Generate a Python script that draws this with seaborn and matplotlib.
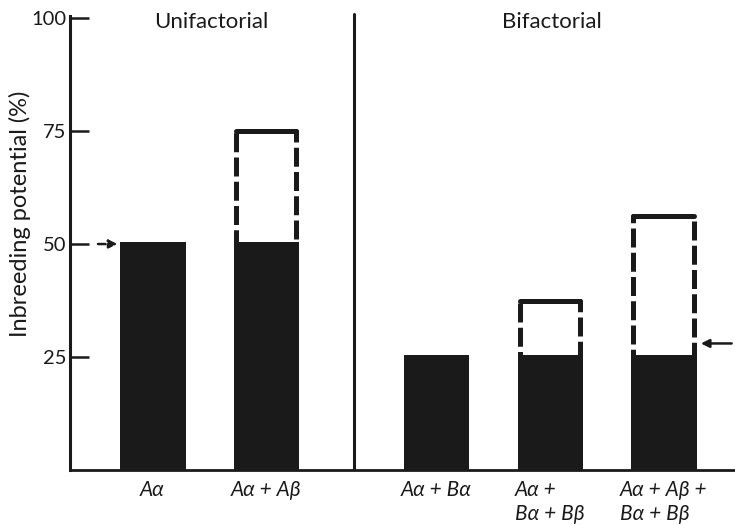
import matplotlib
matplotlib.use("Agg")
import matplotlib.pyplot as plt
import seaborn as sns
import pandas as pd

# Inbreeding potential for each combination of incompatibility factors
groups = ["Unifactorial", "Unifactorial", "Bifactorial", "Bifactorial", "Bifactorial"]
crosses = ["Aα", "Aα + Aβ", "Aα + Bα", "Aα +\nBα + Bβ", "Aα + Aβ +\nBα + Bβ"]
observed = [50, 50, 25, 25, 25]
potential = [50, 75, 25, 37.5, 56.25]
y_ticks = [25, 50, 75, 100]
group_names = ["Unifactorial", "Bifactorial"]
marker_levels = [50, 28]

INK = "#1a1a1a"
BAR_W = 0.53
EDGE_LW = 3.6

sns.set_style("ticks")
plt.rcParams["font.family"] = ["Lato", "DejaVu Sans"]

# Bars of the second group sit half a slot further right
pos = [i + (0.5 if g == "Bifactorial" else 0.0) for i, g in enumerate(groups)]
df = pd.DataFrame({"pos": pos, "observed": observed, "potential": potential,
                   "group": groups})

fig = plt.figure(figsize=(7.35, 5.25), dpi=100)
ax = fig.add_axes([70 / 735, 55 / 525, 665 / 735, 470 / 525])

# Dashed outline: the full potential
sns.barplot(data=df, x="pos", y="potential", native_scale=True, width=BAR_W,
            fill=False, color=INK, errorbar=None, ax=ax,
            linewidth=EDGE_LW, linestyle=(0, (3.8, 1.05)), zorder=2)
for patch in ax.patches:
    patch.set_joinstyle("round")
ax.hlines(df["potential"], df["pos"] - BAR_W / 2, df["pos"] + BAR_W / 2,
          color=INK, lw=EDGE_LW, zorder=2, capstyle="round")

# Solid bars: the realised part
sns.barplot(data=df, x="pos", y="observed", native_scale=True, width=BAR_W,
            color=INK, saturation=1, edgecolor=INK, errorbar=None, ax=ax,
            linewidth=EDGE_LW, zorder=3)

ax.set_xlim(-0.727, 5.13)
ax.set_ylim(0, 104)

# Divider between the two groups
split = (pos[1] + pos[2]) / 2 + 0.02
ax.axvline(split, ymin=0, ymax=101 / 104, color=INK, lw=2.2)

# Group headings
for name in group_names:
    xs = [p for p, g in zip(pos, groups) if g == name]
    ax.text(sum(xs) / len(xs) + 0.02, 99.2, name, ha="center", va="center",
            fontsize=16, color=INK)

# Reference arrows
ax.annotate("", xy=(pos[0] - BAR_W / 2 - 0.02, marker_levels[0]),
            xytext=(pos[0] - BAR_W / 2 - 0.24, marker_levels[0]),
            arrowprops=dict(arrowstyle="-|>", lw=1.8, color=INK,
                            linestyle=(0, (3, 1.2)), mutation_scale=12))
ax.annotate("", xy=(pos[-1] + BAR_W / 2 + 0.04, marker_levels[1]),
            xytext=(pos[-1] + BAR_W / 2 + 0.36, marker_levels[1]),
            arrowprops=dict(arrowstyle="-|>", lw=1.8, color=INK,
                            mutation_scale=12),
            annotation_clip=False)

# Axes styling
ax.set_yticks(y_ticks)
ax.set_yticklabels([str(t) for t in y_ticks], fontsize=14.5, color=INK)
ax.tick_params(axis="y", direction="in", length=14, width=1.8, pad=2.5,
               colors=INK)
ax.set_xticks(pos)
ax.set_xticklabels(crosses, fontsize=15, style="italic", color=INK,
                   multialignment="left", linespacing=1.25)
ax.tick_params(axis="x", length=0, pad=7)
ax.set_xlabel("")
ax.set_ylabel("Inbreeding potential (%)", fontsize=17, color=INK)
ax.yaxis.set_label_coords(-0.058, 0.545)

sns.despine(ax=ax, top=True, right=True)
ax.spines["left"].set_bounds(0, 100.5)
ax.spines["left"].set_linewidth(2.2)
ax.spines["bottom"].set_linewidth(2.0)
ax.spines["left"].set_color(INK)
ax.spines["bottom"].set_color(INK)

fig.savefig("out.png", dpi=100)
